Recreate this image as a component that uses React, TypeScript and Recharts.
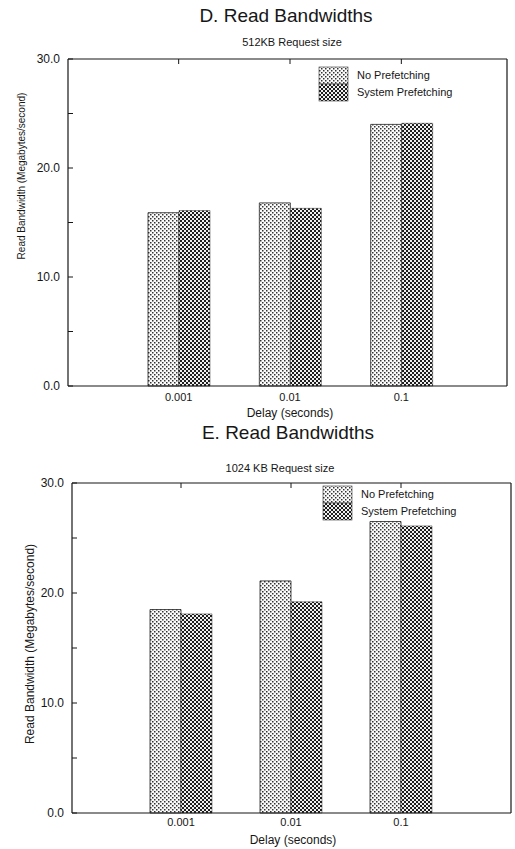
import React from 'react';
import { BarChart, Bar, XAxis, YAxis } from 'recharts';

const categories = ['0.001', '0.01', '0.1'];
const seriesNames = ['No Prefetching', 'System Prefetching'];
const noPrefetchD = [15.9, 16.8, 24.0];
const sysPrefetchD = [16.1, 16.3, 24.1];
const noPrefetchE = [18.5, 21.1, 26.5];
const sysPrefetchE = [18.1, 19.2, 26.1];
const yTicks = [0, 5, 10, 15, 20, 25, 30];

const dataD = categories.map((c, i) => ({ cat: c, no: noPrefetchD[i], sys: sysPrefetchD[i] }));
const dataE = categories.map((c, i) => ({ cat: c, no: noPrefetchE[i], sys: sysPrefetchE[i] }));

const FONT = '"Liberation Sans", Arial, Helvetica, sans-serif';
const INK = '#161616';

function Patterns({ id }: { id: string }) {
  return (
    <defs>
      <pattern id={`${id}-no`} width="4" height="4" patternUnits="userSpaceOnUse">
        <rect width="4" height="4" fill="#fbfbfb" />
        <rect x="0" y="0" width="1.5" height="1.5" fill="#333" />
        <rect x="2" y="2" width="1.5" height="1.5" fill="#333" />
      </pattern>
      <pattern id={`${id}-sys`} width="4" height="4" patternUnits="userSpaceOnUse">
        <rect width="4" height="4" fill="#f0f0f0" />
        <rect x="0" y="0" width="2" height="2" fill="#1e1e1e" />
        <rect x="2" y="2" width="2" height="2" fill="#1e1e1e" />
      </pattern>
    </defs>
  );
}

function LegendBox({ id, left, top }: { id: string; left: number; top: number }) {
  return (
    <svg width={190} height={36} style={{ position: 'absolute', left, top, display: 'block', overflow: 'visible' }}>
      <rect x={0} y={1} width={29} height={17} fill={`url(#${id}-no)`} stroke="#333" strokeWidth={0.6} />
      <rect x={0} y={18} width={29} height={17} fill={`url(#${id}-sys)`} stroke="#333" strokeWidth={0.6} />
      <text x={38} y={9.5} dy="0.35em" fontSize={11} fontFamily={FONT} fill={INK}>{seriesNames[0]}</text>
      <text x={38} y={26} dy="0.35em" fontSize={11} fontFamily={FONT} fill={INK}>{seriesNames[1]}</text>
    </svg>
  );
}

function Txt({ x, y, size, rotate, children }: { x: number; y: number; size: number; rotate?: boolean; children: React.ReactNode }) {
  return (
    <div
      style={{
        position: 'absolute',
        left: x,
        top: y,
        transform: `translate(-50%, -50%)${rotate ? ' rotate(-90deg)' : ''}`,
        fontSize: size,
        whiteSpace: 'nowrap',
        lineHeight: 1,
        fontFamily: FONT,
        color: INK,
      }}
    >
      {children}
    </div>
  );
}

type PanelProps = {
  id: string;
  data: { cat: string; no: number; sys: number }[];
  height: number;
  margin: { top: number; right: number; bottom: number; left: number };
  yAxisWidth: number;
  pad: { left: number; right: number };
  xTickSize: number;
};

function Panel({ id, data, height, margin, yAxisWidth, pad, xTickSize }: PanelProps) {
  return (
    <BarChart width={515} height={height} data={data} margin={margin} barGap={0} barSize={31}>
      <Patterns id={id} />
      <XAxis
        xAxisId="bottom"
        dataKey="cat"
        orientation="bottom"
        padding={pad}
        height={30}
        tickLine={false}
        tickSize={xTickSize}
        tickMargin={2}
        axisLine={{ stroke: INK, strokeWidth: 1.2 }}
        tick={{ fill: INK, fontSize: 11, fontFamily: FONT }}
        interval={0}
      />
      <XAxis
        xAxisId="top"
        dataKey="cat"
        orientation="top"
        padding={pad}
        height={1}
        tickSize={-5}
        tickFormatter={() => ''}
        axisLine={{ stroke: INK, strokeWidth: 1.1 }}
        tickLine={{ stroke: INK }}
        interval={0}
      />
      <YAxis
        yAxisId="left"
        domain={[0, 30]}
        ticks={yTicks}
        interval={0}
        width={yAxisWidth}
        tickSize={-5}
        tickMargin={13}
        tickFormatter={(v: number) => (v % 10 === 0 ? v.toFixed(1) : '')}
        axisLine={{ stroke: INK, strokeWidth: 1.2 }}
        tickLine={{ stroke: INK }}
        tick={{ fill: INK, fontSize: 12, fontFamily: FONT }}
      />
      <YAxis
        yAxisId="right"
        orientation="right"
        domain={[0, 30]}
        ticks={yTicks}
        interval={0}
        width={1}
        tickSize={-5}
        tickFormatter={() => ''}
        axisLine={{ stroke: INK, strokeWidth: 1.2 }}
        tickLine={{ stroke: INK }}
      />
      <Bar xAxisId="bottom" yAxisId="left" dataKey="no" name={seriesNames[0]} fill={`url(#${id}-no)`} stroke="#222" strokeWidth={0.8} isAnimationActive={false} />
      <Bar xAxisId="bottom" yAxisId="left" dataKey="sys" name={seriesNames[1]} fill={`url(#${id}-sys)`} stroke="#333" strokeWidth={0.5} isAnimationActive={false} />
    </BarChart>
  );
}

export default function App() {
  return (
    <div style={{ position: 'absolute', left: 0, top: 0, width: 515, height: 849, background: '#fff', overflow: 'hidden' }}>
      <div style={{ position: 'absolute', left: 0, top: 0 }}>
        <Panel
          id="pd"
          data={dataD}
          height={425}
          margin={{ top: 58, right: 7, bottom: 9, left: 0 }}
          yAxisWidth={68}
          pad={{ left: 55, right: 50 }}
          xTickSize={5}
        />
      </div>
      <div style={{ position: 'absolute', left: 0, top: 425 }}>
        <Panel
          id="pe"
          data={dataE}
          height={424}
          margin={{ top: 57, right: 3, bottom: 6, left: 0 }}
          yAxisWidth={72}
          pad={{ left: 54, right: 55 }}
          xTickSize={3}
        />
      </div>
      <LegendBox id="pd" left={319} top={66} />
      <LegendBox id="pe" left={323} top={485} />

      <Txt x={286} y={15} size={19}>D. Read Bandwidths</Txt>
      <Txt x={292} y={42} size={11}>512KB Request size</Txt>
      <Txt x={22} y={176} size={10} rotate>Read Bandwidth (Megabytes/second)</Txt>
      <Txt x={290} y={413} size={12}>Delay (seconds)</Txt>

      <Txt x={288} y={432} size={19}>E. Read Bandwidths</Txt>
      <Txt x={280} y={468} size={11}>1024 KB Request size</Txt>
      <Txt x={30} y={644} size={12} rotate>Read Bandwidth (Megabytes/second)</Txt>
      <Txt x={293} y={840} size={12}>Delay (seconds)</Txt>
    </div>
  );
}
